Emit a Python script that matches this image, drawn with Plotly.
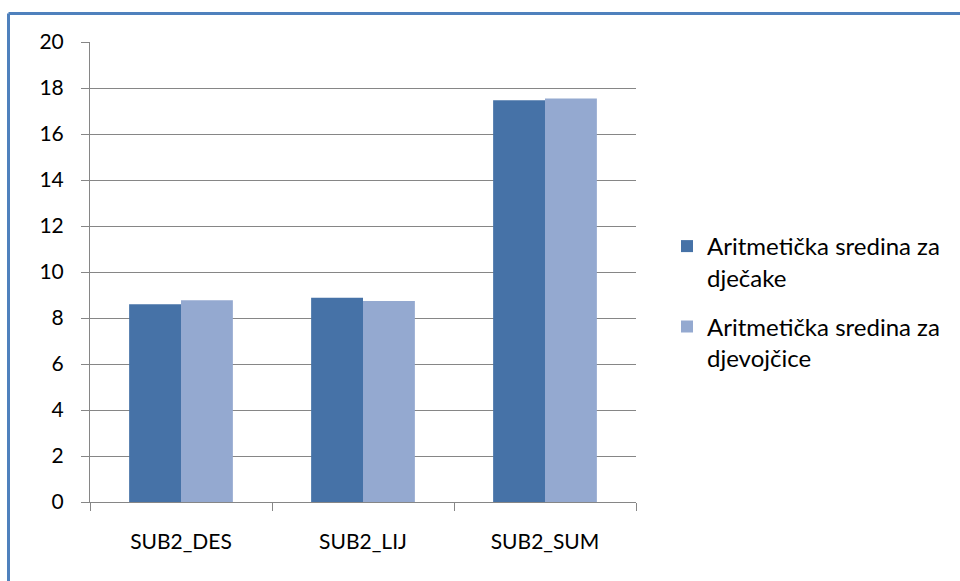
import plotly.graph_objects as go

categories = ["SUB2_DES", "SUB2_LIJ", "SUB2_SUM"]
boys = [8.6, 8.88, 17.47]
girls = [8.77, 8.74, 17.54]
series_names = ["Aritmetička sredina za<br>dječake", "Aritmetička sredina za<br>djevojčice"]
y_ticks = [0, 2, 4, 6, 8, 10, 12, 14, 16, 18, 20]

FONT = "Lato"
fig = go.Figure()
fig.add_trace(go.Bar(x=categories, y=boys, name=series_names[0], legendgroup="a",
                     marker=dict(color="#4672A7", line=dict(width=0))))
fig.add_trace(go.Bar(x=categories, y=girls, name=series_names[1], legendgroup="b",
                     marker=dict(color="#94A9D0", line=dict(width=0))))

L, R, T, B = 90, 324, 42, 79
W, H = 960, 581
pw, ph = W - L - R, H - T - B
bx = (8.5 - L) / pw
by = 1 + (T - 13.5) / ph

fig.update_layout(
    width=W, height=H,
    margin=dict(l=L, r=R, t=T, b=B),
    paper_bgcolor="white", plot_bgcolor="white",
    barmode="group", bargap=0.43, bargroupgap=0,
    font=dict(family=FONT, size=20, color="#000000"),
    showlegend=True,
    legend=dict(x=(667 - L) / pw, y=1 - (224 - T) / ph, xanchor="left", yanchor="top",
                valign="top", font=dict(family=FONT, size=24), traceorder="grouped",
                tracegroupgap=15, itemwidth=30, bgcolor="rgba(0,0,0,0)"),
    xaxis=dict(type="category", tickson="boundaries", ticks="outside", ticklen=8,
               tickcolor="#868686", showline=True, linecolor="#868686", linewidth=1,
               showgrid=False, tickfont=dict(size=21), ticklabelstandoff=21,
               fixedrange=True),
    yaxis=dict(range=[0, 20], tickvals=y_ticks, ticks="outside", ticklen=8,
               tickcolor="#868686", showline=True, linecolor="#868686", linewidth=1,
               showgrid=True, gridcolor="#868686", gridwidth=1, zeroline=False,
               tickfont=dict(size=21), ticklabelstandoff=13, fixedrange=True),
    shapes=[
        dict(type="line", xref="paper", yref="paper", x0=bx, x1=bx, y0=by, y1=-0.3,
             line=dict(color="#4F81BD", width=3)),
        dict(type="line", xref="paper", yref="paper", x0=bx, x1=1.8, y0=by, y1=by,
             line=dict(color="#4F81BD", width=3)),
    ],
)
fig.write_html("out.html", config={"displayModeBar": False},
               post_script="document.body.style.margin='0';document.body.style.overflow='hidden';")
